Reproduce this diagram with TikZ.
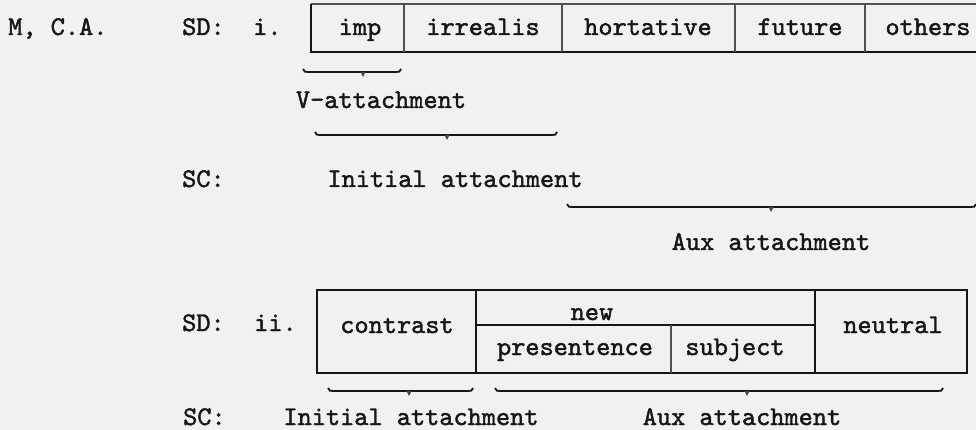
\documentclass[tikz,border=0pt]{standalone}
\usepackage{fontspec}
\newfontfamily\twfont{lmmono10-regular.otf}[FakeBold=1.6]
\definecolor{paper}{RGB}{241,241,240}
\definecolor{ink}{RGB}{22,22,22}
\newcommand\flatbrace[4]{%
  \draw[bracestyle] (#1,#4-3) .. controls (#1+1,#4) and (#1+2,#4) .. (#1+5,#4) -- (#2-5,#4) .. controls (#2-2,#4) and (#2-1,#4) .. (#2,#4-3);
  \fill[bracetip] (#3-2.5,#4) -- (#3,#4+5) -- (#3+2.5,#4) -- cycle;}
\tikzset{
  lbl/.style={inner sep=0pt, anchor=base, text=ink, font=\twfont\fontsize{27}{32}\selectfont\bfseries},
  lblw/.style={lbl, anchor=base west},
  boxline/.style={draw=ink, line width=1.7pt},
  thinline/.style={draw=ink!75, line width=1.1pt},
  bracestyle/.style={draw=ink, line width=1.8pt},
  bracetip/.style={fill=ink!80, draw=none},
}
\begin{document}
\begin{tikzpicture}[x=1pt,y=-1pt]
\fill[paper] (0,0) rectangle (976,430);
\useasboundingbox (0,0) rectangle (976,430);

% left labels
\node[lblw] (mca) at (8,35) {M, C.A.};
\node[lblw] (sd1) at (182,35) {SD:};
\node[lblw] (i1) at (253,35) {i.};

% box 1
\draw[thinline] (311,4) -- (990,4);
\draw[boxline] (311,4) -- (311,52) -- (990,52);
\foreach \x in {404,562,735,865} \draw[thinline] (\x,4) -- (\x,52);
\node[lbl] (imp) at (360,35) {imp};
\node[lbl] (irr) at (483,35) {irrealis};
\node[lbl] (hort) at (648,35) {hortative};
\node[lbl] (fut) at (800,35) {future};
\node[lbl] (oth) at (928,35) {others};

% braces and labels for i.
\flatbrace{303}{401}{363}{72}
\node[lbl] (vatt) at (381,108) {V-attachment};
\flatbrace{315}{557}{447}{135}
\node[lblw] (sc1) at (182,187) {SC:};
\node[lbl] (init1) at (455,187) {Initial attachment};
\flatbrace{567}{976}{771}{207}
\node[lbl] (aux1) at (771,250) {Aux attachment};

% ii.
\node[lblw] (sd2) at (182,331) {SD:};
\node[lblw] (i2) at (254,331) {ii.};
\draw[boxline] (317,290) rectangle (967,373);
\draw[boxline] (476,290) -- (476,373);
\draw[boxline] (815,290) -- (815,373);
\draw[boxline] (476,325) -- (815,325);
\draw[thinline] (671,325) -- (671,373);
\node[lbl] (contr) at (397,333) {contrast};
\node[lbl] (new) at (592,320) {new};
\node[lbl] (pres) at (575,355) {presentence};
\node[lbl] (subj) at (735,355) {subject};
\node[lbl] (neut) at (893,333) {neutral};

\flatbrace{328}{473}{409}{391}
\flatbrace{495}{943}{747}{391}
\node[lblw] (sc2) at (183,425) {SC:};
\node[lbl] (init2) at (411,425) {Initial attachment};
\node[lbl] (aux2) at (742,425) {Aux attachment};
\end{tikzpicture}
\end{document}
